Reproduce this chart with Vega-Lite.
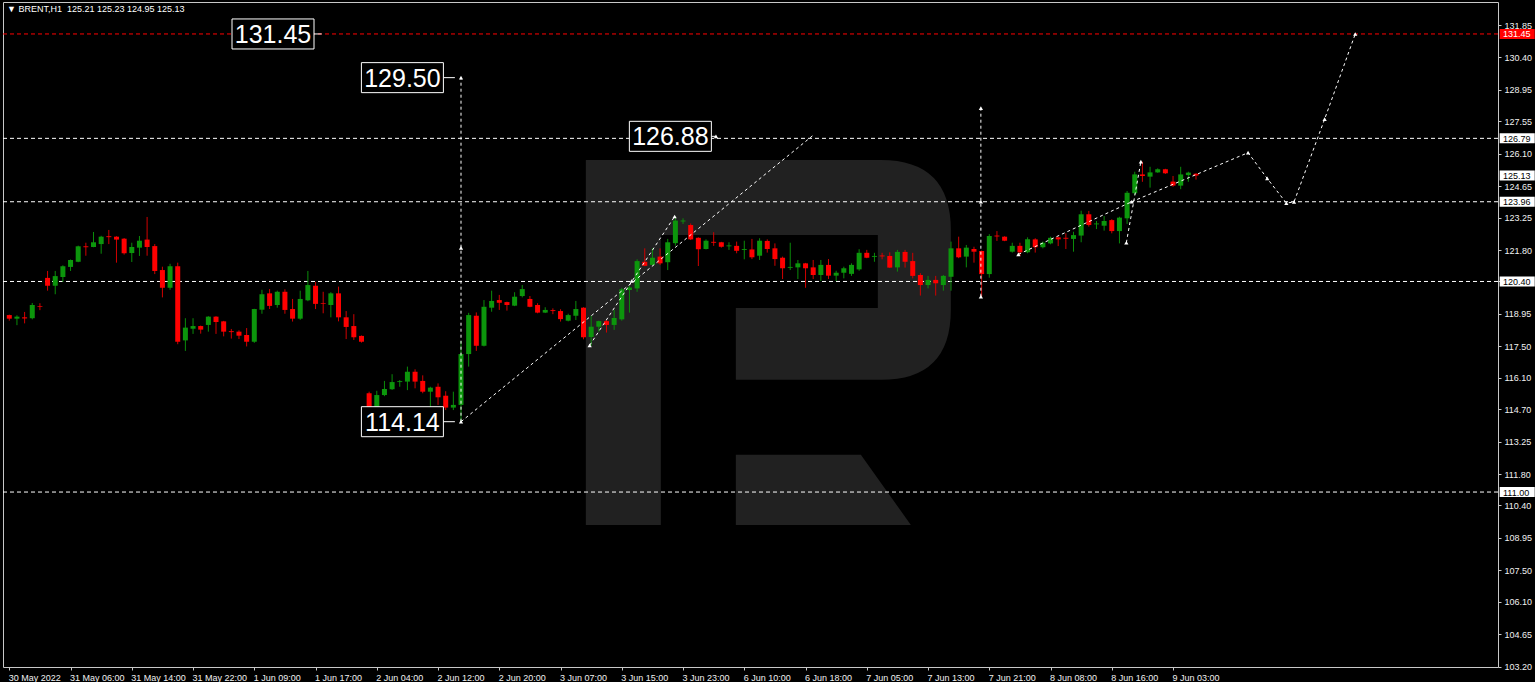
{
  "$schema": "https://vega.github.io/schema/vega-lite/v6.json",
  "width": 1495,
  "height": 665,
  "padding": {"left": 2, "top": 2, "right": 0, "bottom": 0},
  "autosize": {"type": "pad"},
  "background": "#000000",
  "title": {
    "text": "▼ BRENT,H1 \u00a0125.21 125.23 124.95 125.13",
    "anchor": "start",
    "frame": "group",
    "orient": "top",
    "offset": -12,
    "dx": 4,
    "color": "#ffffff",
    "font": "Liberation Sans",
    "fontSize": 9,
    "fontWeight": "normal"
  },
  "config": {
    "view": {"stroke": "#c8c8c8", "strokeWidth": 1, "fill": "#000000"},
    "axis": {
      "labelColor": "#f0f0f0",
      "labelFont": "Liberation Sans",
      "labelFontSize": 9,
      "labelOverlap": false,
      "labelFlush": false,
      "tickColor": "#c8c8c8",
      "tickSize": 3,
      "domain": false,
      "grid": false,
      "title": null
    },
    "axisY": {"labelOverlap": false, "labelPadding": 3, "labelAlign": "left"},
    "axisX": {"labelOverlap": false, "labelPadding": 3, "labelAlign": "left"}
  },
  "datasets": {
    "candles": [
      {"i":0,"o":118.90,"h":118.92,"l":118.65,"c":118.74},
      {"i":1,"o":118.74,"h":118.89,"l":118.45,"c":118.83},
      {"i":2,"o":118.80,"h":119.04,"l":118.53,"c":118.75},
      {"i":3,"o":118.76,"h":119.44,"l":118.71,"c":119.35},
      {"i":4,"o":119.30,"h":119.43,"l":119.12,"c":119.27},
      {"i":5,"o":120.56,"h":120.87,"l":119.99,"c":120.21},
      {"i":6,"o":120.21,"h":120.87,"l":119.83,"c":120.64},
      {"i":7,"o":120.60,"h":121.12,"l":120.38,"c":121.08},
      {"i":8,"o":121.05,"h":121.38,"l":120.87,"c":121.36},
      {"i":9,"o":121.28,"h":122.00,"l":121.26,"c":121.97},
      {"i":10,"o":121.97,"h":122.13,"l":121.55,"c":121.93},
      {"i":11,"o":121.94,"h":122.61,"l":121.93,"c":122.15},
      {"i":12,"o":122.07,"h":122.44,"l":121.64,"c":122.40},
      {"i":13,"o":122.42,"h":122.70,"l":122.07,"c":122.38},
      {"i":14,"o":122.40,"h":122.42,"l":121.24,"c":122.27},
      {"i":15,"o":122.31,"h":122.34,"l":121.60,"c":121.66},
      {"i":16,"o":121.67,"h":122.13,"l":121.27,"c":121.94},
      {"i":17,"o":121.91,"h":122.43,"l":121.54,"c":122.22},
      {"i":18,"o":122.27,"h":123.28,"l":121.55,"c":121.94},
      {"i":19,"o":121.98,"h":122.07,"l":120.73,"c":120.87},
      {"i":20,"o":120.91,"h":121.06,"l":119.69,"c":120.12},
      {"i":21,"o":120.12,"h":121.19,"l":120.03,"c":121.08},
      {"i":22,"o":121.08,"h":121.24,"l":117.60,"c":117.71},
      {"i":23,"o":117.77,"h":118.76,"l":117.30,"c":118.34},
      {"i":24,"o":118.29,"h":118.76,"l":118.06,"c":118.41},
      {"i":25,"o":118.41,"h":118.43,"l":118.07,"c":118.25},
      {"i":26,"o":118.46,"h":118.85,"l":118.16,"c":118.83},
      {"i":27,"o":118.83,"h":118.85,"l":118.06,"c":118.59},
      {"i":28,"o":118.62,"h":118.64,"l":117.95,"c":118.16},
      {"i":29,"o":118.18,"h":118.28,"l":117.85,"c":118.14},
      {"i":30,"o":118.16,"h":118.22,"l":117.83,"c":117.98},
      {"i":31,"o":118.01,"h":118.32,"l":117.50,"c":117.71},
      {"i":32,"o":117.71,"h":119.18,"l":117.66,"c":119.17},
      {"i":33,"o":119.14,"h":120.03,"l":118.96,"c":119.83},
      {"i":34,"o":119.87,"h":120.06,"l":119.17,"c":119.31},
      {"i":35,"o":119.35,"h":119.99,"l":119.23,"c":119.94},
      {"i":36,"o":119.94,"h":120.05,"l":118.96,"c":119.13},
      {"i":37,"o":119.17,"h":119.62,"l":118.61,"c":118.74},
      {"i":38,"o":118.74,"h":119.99,"l":118.69,"c":119.62},
      {"i":39,"o":119.56,"h":120.87,"l":119.52,"c":120.24},
      {"i":40,"o":120.21,"h":120.38,"l":119.17,"c":119.40},
      {"i":41,"o":119.43,"h":119.94,"l":118.98,"c":119.40},
      {"i":42,"o":119.35,"h":119.92,"l":118.80,"c":119.87},
      {"i":43,"o":119.87,"h":120.17,"l":118.62,"c":118.80},
      {"i":44,"o":118.80,"h":119.08,"l":117.83,"c":118.37},
      {"i":45,"o":118.41,"h":118.94,"l":117.79,"c":117.91},
      {"i":46,"o":117.97,"h":117.99,"l":117.67,"c":117.71},
      {"i":47,"o":115.41,"h":115.48,"l":114.50,"c":114.60},
      {"i":48,"o":114.60,"h":115.52,"l":114.50,"c":115.33},
      {"i":49,"o":115.33,"h":115.96,"l":115.28,"c":115.60},
      {"i":50,"o":115.59,"h":116.26,"l":115.56,"c":115.91},
      {"i":51,"o":115.91,"h":116.00,"l":115.70,"c":115.95},
      {"i":52,"o":115.93,"h":116.60,"l":115.55,"c":116.37},
      {"i":53,"o":116.37,"h":116.48,"l":115.63,"c":115.93},
      {"i":54,"o":115.96,"h":116.21,"l":115.41,"c":115.48},
      {"i":55,"o":115.48,"h":115.70,"l":114.54,"c":115.66},
      {"i":56,"o":115.70,"h":115.85,"l":114.89,"c":115.23},
      {"i":57,"o":115.30,"h":115.50,"l":114.66,"c":114.77},
      {"i":58,"o":114.77,"h":115.48,"l":114.66,"c":114.89},
      {"i":59,"o":114.89,"h":117.74,"l":114.14,"c":117.16},
      {"i":60,"o":117.16,"h":119.00,"l":116.60,"c":118.90},
      {"i":61,"o":118.87,"h":119.02,"l":117.30,"c":117.53},
      {"i":62,"o":117.53,"h":119.57,"l":117.50,"c":119.27},
      {"i":63,"o":119.23,"h":119.99,"l":119.05,"c":119.53},
      {"i":64,"o":119.57,"h":119.80,"l":119.13,"c":119.45},
      {"i":65,"o":119.48,"h":119.50,"l":119.10,"c":119.35},
      {"i":66,"o":119.32,"h":119.92,"l":119.30,"c":119.72},
      {"i":67,"o":119.75,"h":120.24,"l":119.69,"c":120.06},
      {"i":68,"o":119.62,"h":119.75,"l":119.25,"c":119.27},
      {"i":69,"o":119.35,"h":119.43,"l":118.98,"c":119.01},
      {"i":70,"o":119.01,"h":119.25,"l":118.99,"c":119.13},
      {"i":71,"o":119.12,"h":119.20,"l":118.94,"c":119.08},
      {"i":72,"o":119.08,"h":119.16,"l":118.61,"c":118.72},
      {"i":73,"o":118.65,"h":118.96,"l":118.62,"c":118.90},
      {"i":74,"o":118.87,"h":119.53,"l":118.68,"c":119.17},
      {"i":75,"o":119.23,"h":119.25,"l":117.82,"c":117.91},
      {"i":76,"o":117.92,"h":118.87,"l":117.53,"c":118.38},
      {"i":77,"o":118.38,"h":118.65,"l":118.16,"c":118.63},
      {"i":78,"o":118.63,"h":118.68,"l":118.12,"c":118.46},
      {"i":79,"o":118.46,"h":119.13,"l":118.24,"c":118.77},
      {"i":80,"o":118.71,"h":120.12,"l":118.65,"c":120.05},
      {"i":81,"o":120.02,"h":120.20,"l":119.01,"c":120.13},
      {"i":82,"o":120.09,"h":121.39,"l":119.94,"c":121.31},
      {"i":83,"o":121.28,"h":121.88,"l":121.08,"c":121.10},
      {"i":84,"o":121.14,"h":121.88,"l":121.12,"c":121.46},
      {"i":85,"o":121.51,"h":121.88,"l":121.14,"c":121.21},
      {"i":86,"o":121.26,"h":122.30,"l":120.91,"c":122.15},
      {"i":87,"o":122.11,"h":123.30,"l":122.00,"c":123.12},
      {"i":88,"o":123.08,"h":123.22,"l":122.97,"c":123.12},
      {"i":89,"o":122.92,"h":122.99,"l":122.25,"c":122.28},
      {"i":90,"o":122.35,"h":122.37,"l":121.09,"c":121.84},
      {"i":91,"o":121.85,"h":122.28,"l":121.83,"c":122.22},
      {"i":92,"o":122.17,"h":122.60,"l":121.99,"c":122.13},
      {"i":93,"o":122.15,"h":122.17,"l":121.91,"c":121.95},
      {"i":94,"o":121.97,"h":122.15,"l":121.81,"c":122.01},
      {"i":95,"o":121.99,"h":122.18,"l":121.66,"c":121.77},
      {"i":96,"o":121.81,"h":122.22,"l":121.39,"c":121.85},
      {"i":97,"o":121.83,"h":122.30,"l":121.40,"c":121.48},
      {"i":98,"o":121.55,"h":122.33,"l":121.36,"c":122.22},
      {"i":99,"o":122.21,"h":122.28,"l":121.69,"c":121.85},
      {"i":100,"o":121.88,"h":122.10,"l":121.10,"c":121.40},
      {"i":101,"o":121.46,"h":121.51,"l":120.51,"c":120.99},
      {"i":102,"o":121.01,"h":122.13,"l":120.91,"c":121.05},
      {"i":103,"o":121.03,"h":121.36,"l":120.51,"c":121.21},
      {"i":104,"o":121.21,"h":121.23,"l":120.12,"c":120.99},
      {"i":105,"o":121.03,"h":121.36,"l":120.51,"c":120.69},
      {"i":106,"o":120.69,"h":121.36,"l":120.42,"c":121.14},
      {"i":107,"o":121.14,"h":121.40,"l":120.51,"c":120.66},
      {"i":108,"o":120.66,"h":120.88,"l":120.42,"c":120.79},
      {"i":109,"o":120.79,"h":121.06,"l":120.54,"c":120.99},
      {"i":110,"o":120.74,"h":121.21,"l":120.65,"c":121.14},
      {"i":111,"o":120.94,"h":121.84,"l":120.88,"c":121.68},
      {"i":112,"o":121.68,"h":121.81,"l":121.44,"c":121.46},
      {"i":113,"o":121.50,"h":121.68,"l":121.28,"c":121.54},
      {"i":114,"o":121.56,"h":121.68,"l":121.39,"c":121.52},
      {"i":115,"o":121.54,"h":121.70,"l":121.00,"c":121.02},
      {"i":116,"o":121.03,"h":121.81,"l":120.84,"c":121.72},
      {"i":117,"o":121.72,"h":121.81,"l":121.02,"c":121.28},
      {"i":118,"o":121.31,"h":121.68,"l":120.54,"c":120.65},
      {"i":119,"o":120.69,"h":120.77,"l":119.77,"c":120.24},
      {"i":120,"o":120.24,"h":120.65,"l":120.09,"c":120.47},
      {"i":121,"o":120.47,"h":120.65,"l":119.77,"c":120.32},
      {"i":122,"o":120.24,"h":120.69,"l":119.99,"c":120.65},
      {"i":123,"o":120.61,"h":122.18,"l":119.99,"c":121.88},
      {"i":124,"o":121.88,"h":122.40,"l":121.44,"c":121.48},
      {"i":125,"o":121.51,"h":122.03,"l":121.03,"c":121.91},
      {"i":126,"o":121.85,"h":121.95,"l":121.24,"c":121.73},
      {"i":127,"o":121.76,"h":121.78,"l":119.72,"c":120.73},
      {"i":128,"o":120.73,"h":122.51,"l":120.57,"c":122.43},
      {"i":129,"o":122.45,"h":122.65,"l":122.21,"c":122.41},
      {"i":130,"o":122.40,"h":122.42,"l":122.20,"c":122.22},
      {"i":131,"o":121.73,"h":122.13,"l":121.69,"c":121.99},
      {"i":132,"o":121.99,"h":122.13,"l":121.54,"c":121.70},
      {"i":133,"o":121.70,"h":122.37,"l":121.66,"c":122.28},
      {"i":134,"o":122.28,"h":122.33,"l":121.69,"c":121.93},
      {"i":135,"o":121.93,"h":122.18,"l":121.88,"c":122.13},
      {"i":136,"o":122.10,"h":122.40,"l":122.06,"c":122.35},
      {"i":137,"o":122.37,"h":122.39,"l":121.98,"c":122.28},
      {"i":138,"o":122.35,"h":122.55,"l":121.85,"c":122.31},
      {"i":139,"o":122.30,"h":122.62,"l":121.73,"c":122.47},
      {"i":140,"o":122.45,"h":123.56,"l":122.15,"c":123.40},
      {"i":141,"o":123.40,"h":123.55,"l":122.85,"c":122.92},
      {"i":142,"o":122.95,"h":123.10,"l":122.74,"c":122.99},
      {"i":143,"o":122.89,"h":123.32,"l":122.67,"c":123.10},
      {"i":144,"o":123.14,"h":123.18,"l":122.55,"c":122.65},
      {"i":145,"o":122.65,"h":123.29,"l":122.10,"c":123.25},
      {"i":146,"o":123.22,"h":124.44,"l":122.97,"c":124.36},
      {"i":147,"o":124.34,"h":125.30,"l":124.26,"c":125.18},
      {"i":148,"o":125.18,"h":125.75,"l":124.85,"c":125.11},
      {"i":149,"o":125.08,"h":125.52,"l":124.59,"c":125.27},
      {"i":150,"o":125.27,"h":125.45,"l":125.25,"c":125.41},
      {"i":151,"o":125.41,"h":125.43,"l":125.20,"c":125.23},
      {"i":152,"o":124.86,"h":125.11,"l":124.63,"c":124.68},
      {"i":153,"o":124.68,"h":125.52,"l":124.52,"c":125.18},
      {"i":154,"o":125.15,"h":125.30,"l":124.85,"c":125.26},
      {"i":155,"o":125.21,"h":125.23,"l":124.95,"c":125.13}
    ],
    "levels": [
      {"price": 131.45, "kind": "target"},
      {"price": 126.79, "kind": "level"},
      {"price": 123.96, "kind": "level"},
      {"price": 120.40, "kind": "level"},
      {"price": 111.00, "kind": "level"}
    ],
    "tags": [
      {"price": 131.45, "kind": "target"},
      {"price": 126.79, "kind": "level"},
      {"price": 125.13, "kind": "level"},
      {"price": 123.96, "kind": "level"},
      {"price": 120.40, "kind": "level"},
      {"price": 111.00, "kind": "level"}
    ],
    "paths": [
      {"path": "V1", "ord": 0, "i": 59, "price": 114.14},
      {"path": "V1", "ord": 1, "i": 59, "price": 129.50},
      {"path": "A", "ord": 0, "i": 59, "price": 114.14},
      {"path": "A", "ord": 1, "i": 104.9, "price": 126.90},
      {"path": "B", "ord": 0, "i": 75.8, "price": 117.55},
      {"path": "B", "ord": 1, "i": 86.9, "price": 123.30},
      {"path": "V2", "ord": 0, "i": 126.9, "price": 119.72},
      {"path": "V2", "ord": 1, "i": 126.9, "price": 128.14},
      {"path": "C", "ord": 0, "i": 131.8, "price": 121.61},
      {"path": "C", "ord": 1, "i": 146.6, "price": 123.96},
      {"path": "D", "ord": 0, "i": 145.9, "price": 122.13},
      {"path": "D", "ord": 1, "i": 147.8, "price": 125.75},
      {"path": "E", "ord": 0, "i": 146.6, "price": 123.96},
      {"path": "E", "ord": 1, "i": 161.8, "price": 126.15},
      {"path": "E", "ord": 2, "i": 164.3, "price": 125.00},
      {"path": "E", "ord": 3, "i": 166.8, "price": 123.90},
      {"path": "E", "ord": 4, "i": 167.8, "price": 123.95},
      {"path": "E", "ord": 5, "i": 171.8, "price": 127.65},
      {"path": "E", "ord": 6, "i": 175.8, "price": 131.45}
    ],
    "markers": [
      {"i": 59, "price": 114.14},
      {"i": 59, "price": 121.90},
      {"i": 59, "price": 129.50},
      {"i": 75.8, "price": 117.55},
      {"i": 81.3, "price": 120.42},
      {"i": 86.9, "price": 123.30},
      {"i": 92.3, "price": 126.88},
      {"i": 126.9, "price": 119.72},
      {"i": 126.9, "price": 123.96},
      {"i": 126.9, "price": 128.14},
      {"i": 131.8, "price": 121.61},
      {"i": 145.9, "price": 122.13},
      {"i": 146.6, "price": 123.96},
      {"i": 147.8, "price": 125.75},
      {"i": 161.8, "price": 126.15},
      {"i": 164.3, "price": 125.00},
      {"i": 166.8, "price": 123.90},
      {"i": 167.8, "price": 123.95},
      {"i": 171.8, "price": 127.65},
      {"i": 175.8, "price": 131.45}
    ],
    "callouts": [
      {"text": "131.45", "i": 39.8, "tip": 40.8, "price": 131.45},
      {"text": "129.50", "i": 56.7, "tip": 58.2, "price": 129.50},
      {"text": "126.88", "i": 91.7, "tip": 92.3, "price": 126.88},
      {"text": "114.14", "i": 56.7, "tip": 58.2, "price": 114.14}
    ]
  },
  "layer": [
    {
      "data": {"values": [{"logo": "R"}]},
      "mark": {
        "type": "point",
        "shape": "M-1,-1L0.616,-1Q1,-1 1,-0.616L1,-0.178Q1,0.205 0.616,0.205L-0.178,0.205L-0.178,-0.189L0.6,-0.189L0.6,-0.589L-0.589,-0.589L-0.589,1L-1,1ZM-0.178,0.616L0.507,0.616L0.781,1L-0.178,1Z",
        "size": 133225,
        "filled": true,
        "color": "#212121",
        "opacity": 1,
        "strokeWidth": 0
      },
      "encoding": {
        "x": {
          "datum": 99.14,
          "type": "quantitative",
          "scale": {"domain": [-0.169, 193.79], "nice": false, "zero": false},
          "axis": {
            "orient": "bottom",
            "values": [0, 8, 16, 24, 32, 40, 48, 56, 64, 72, 80, 88, 96, 104, 112, 120, 128, 136, 144, 152],
            "tickCount": 100,
            "labelExpr": "['30 May 2022','31 May 06:00','31 May 14:00','31 May 22:00','1 Jun 09:00','1 Jun 17:00','2 Jun 04:00','2 Jun 12:00','2 Jun 20:00','3 Jun 07:00','3 Jun 15:00','3 Jun 23:00','6 Jun 10:00','6 Jun 18:00','7 Jun 05:00','7 Jun 13:00','7 Jun 21:00','8 Jun 08:00','8 Jun 16:00','9 Jun 03:00'][round(datum.value / 8)]",
            "labelAlign": "left",
            "labelOffset": -1,
            "labelFlush": false,
            "labelOverlap": false,
            "labelPadding": 3
          }
        },
        "y": {
          "datum": 117.68,
          "type": "quantitative",
          "scale": {"domain": [103.189, 132.877], "nice": false, "zero": false},
          "axis": {
            "orient": "right",
            "values": [131.85, 130.40, 128.95, 127.55, 126.10, 124.65, 123.25, 121.80, 120.40, 118.95, 117.50, 116.10, 114.70, 113.25, 111.80, 110.40, 108.95, 107.50, 106.10, 104.65, 103.20],
            "tickCount": 100,
            "format": ".2f",
            "labelAlign": "left",
            "labelPadding": 3,
            "labelFlush": false,
            "labelOverlap": false,
            "labelSeparation": 0
          }
        }
      }
    },
    {
      "data": {"name": "levels"},
      "mark": {"type": "rule", "strokeWidth": 1, "strokeDash": [4, 3]},
      "encoding": {
        "y": {"field": "price", "type": "quantitative"},
        "color": {"field": "kind", "type": "nominal", "scale": {"domain": ["target", "level"], "range": ["#ff0000", "#ffffff"]}, "legend": null}
      }
    },
    {
      "data": {"name": "candles"},
      "mark": {"type": "rule", "strokeWidth": 1, "clip": true},
      "encoding": {
        "x": {"field": "i", "type": "quantitative"},
        "y": {"field": "l", "type": "quantitative"},
        "y2": {"field": "h"},
        "color": {"condition": {"test": "datum.c >= datum.o", "value": "#0a8c0a"}, "value": "#d00000"}
      }
    },
    {
      "data": {"name": "candles"},
      "mark": {"type": "bar", "size": 5, "clip": true},
      "encoding": {
        "x": {"field": "i", "type": "quantitative"},
        "y": {"field": "o", "type": "quantitative"},
        "y2": {"field": "c"},
        "color": {"condition": {"test": "datum.c >= datum.o", "value": "#0c960c"}, "value": "#ff0000"}
      }
    },
    {
      "data": {"name": "paths"},
      "mark": {"type": "line", "color": "#ffffff", "strokeWidth": 1, "strokeDash": [3, 3]},
      "encoding": {
        "x": {"field": "i", "type": "quantitative"},
        "y": {"field": "price", "type": "quantitative"},
        "detail": {"field": "path", "type": "nominal"},
        "order": {"field": "ord", "type": "quantitative"}
      }
    },
    {
      "data": {"name": "markers"},
      "mark": {"type": "point", "shape": "triangle-up", "size": 18, "filled": true, "color": "#ffffff", "opacity": 1},
      "encoding": {
        "x": {"field": "i", "type": "quantitative"},
        "y": {"field": "price", "type": "quantitative"}
      }
    },
    {
      "data": {"name": "callouts"},
      "mark": {"type": "rule", "color": "#ffffff", "strokeWidth": 1},
      "encoding": {
        "x": {"field": "i", "type": "quantitative"},
        "x2": {"field": "tip"},
        "y": {"field": "price", "type": "quantitative"}
      }
    },
    {
      "data": {"name": "callouts"},
      "mark": {
        "type": "point",
        "shape": "M-2,-0.366L0,-0.366L0,0.366L-2,0.366Z",
        "size": 6724,
        "filled": true,
        "fill": "#000000",
        "stroke": "#ffffff",
        "strokeWidth": 1,
        "opacity": 1
      },
      "encoding": {
        "x": {"field": "i", "type": "quantitative"},
        "y": {"field": "price", "type": "quantitative"}
      }
    },
    {
      "data": {"name": "callouts"},
      "mark": {"type": "text", "align": "center", "baseline": "middle", "dx": -41, "dy": 1, "font": "Liberation Sans", "fontSize": 25, "color": "#ffffff"},
      "encoding": {
        "x": {"field": "i", "type": "quantitative"},
        "y": {"field": "price", "type": "quantitative"},
        "text": {"field": "text"}
      }
    },
    {
      "data": {"name": "tags"},
      "mark": {
        "type": "point",
        "shape": "M0.094,-0.278L2.04,-0.278L2.04,0.278L0.094,0.278Z",
        "size": 1296,
        "filled": true,
        "opacity": 1,
        "strokeWidth": 0
      },
      "encoding": {
        "x": {"value": "width"},
        "y": {"field": "price", "type": "quantitative"},
        "color": {"field": "kind", "type": "nominal", "scale": {"domain": ["target", "level"], "range": ["#ff0000", "#ffffff"]}, "legend": null}
      }
    },
    {
      "data": {"name": "tags"},
      "mark": {"type": "text", "align": "left", "baseline": "middle", "dx": 5, "dy": 0.5, "font": "Liberation Sans", "fontSize": 9},
      "encoding": {
        "x": {"value": "width"},
        "y": {"field": "price", "type": "quantitative"},
        "text": {"field": "price", "type": "quantitative", "format": ".2f"},
        "color": {"condition": {"test": "datum.kind === 'target'", "value": "#ffffff"}, "value": "#000000"}
      }
    }
  ]
}
